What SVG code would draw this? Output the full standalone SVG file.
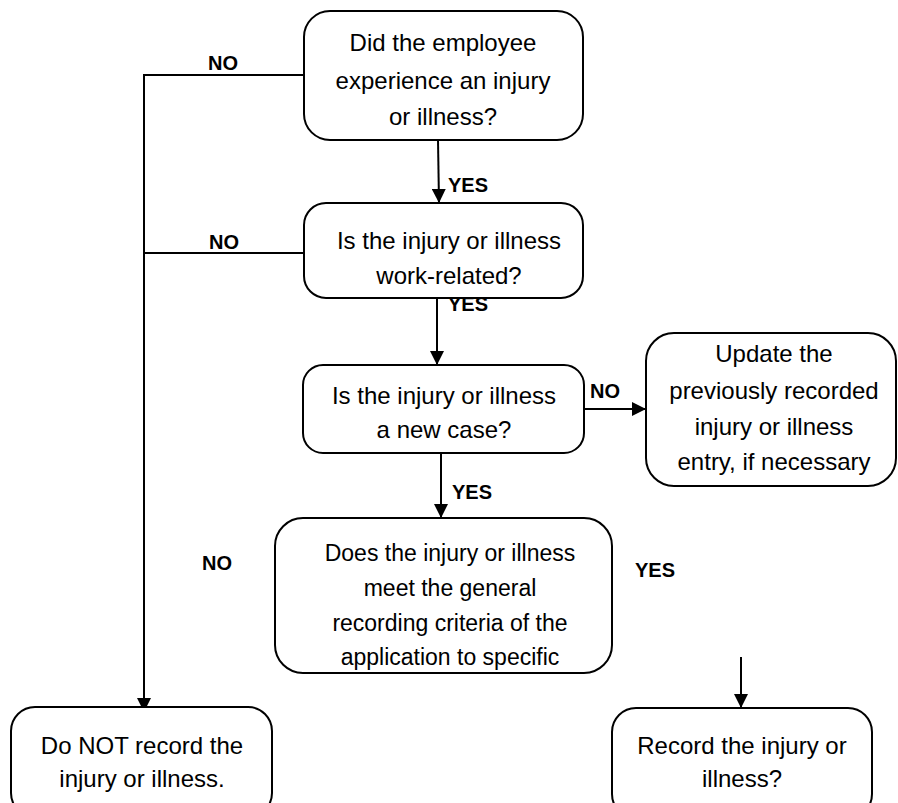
<svg xmlns="http://www.w3.org/2000/svg" width="898" height="803" viewBox="0 0 898 803">
<defs>
<marker id="ah" markerUnits="userSpaceOnUse" markerWidth="14" markerHeight="14" viewBox="0 0 14 14" refX="14" refY="7" orient="auto">
<path d="M0,0 L14,7 L0,14 Z" fill="#000"/>
</marker>
<style>
.box{fill:#fff;stroke:#000;stroke-width:2}
.t{font-family:"Liberation Sans",Arial,sans-serif;font-size:24px;fill:#000;text-anchor:middle}
.s{font-size:23px}
.lb{font-family:"Liberation Sans",Arial,sans-serif;font-size:20px;font-weight:bold;fill:#000}
.c{stroke:#000;stroke-width:2;fill:none}
</style>
</defs>
<rect width="898" height="803" fill="#fff"/>
<g id="connectors">
<path class="c" d="M304,75 H144 V712" marker-end="url(#ah)"/>
<path class="c" d="M304,253 H144"/>
<path class="c" d="M438,140 L439,203" marker-end="url(#ah)"/>
<path class="c" d="M437,298 V365" marker-end="url(#ah)"/>
<path class="c" d="M584,409 H646" marker-end="url(#ah)"/>
<path class="c" d="M441,453 V518" marker-end="url(#ah)"/>
<path class="c" d="M741,657 V708" marker-end="url(#ah)"/>
<text class="lb" x="223" y="70" text-anchor="middle">NO</text>
<text class="lb" x="224" y="249" text-anchor="middle">NO</text>
<text class="lb" x="448" y="192">YES</text>
<text class="lb" x="448" y="311">YES</text>
<text class="lb" x="590" y="398">NO</text>
<text class="lb" x="452" y="499">YES</text>
<text class="lb" x="217" y="570" text-anchor="middle">NO</text>
<text class="lb" x="655" y="577" text-anchor="middle">YES</text>
</g>
<g id="n1">
<rect class="box" x="304" y="11" width="279" height="129" rx="26"/>
<text class="t" x="443" y="51">Did the employee</text>
<text class="t" x="443" y="89">experience an injury</text>
<text class="t" x="443" y="125">or illness?</text>
</g>
<g id="n2">
<rect class="box" x="304" y="203" width="279" height="95" rx="22"/>
<text class="t" x="449" y="249">Is the injury or illness</text>
<text class="t" x="449" y="284">work-related?</text>
</g>
<g id="n3">
<rect class="box" x="303" y="365" width="281" height="88" rx="20"/>
<text class="t" x="444" y="404">Is the injury or illness</text>
<text class="t" x="444" y="438">a new case?</text>
</g>
<g id="n4">
<rect class="box" x="646" y="333" width="250" height="153" rx="28"/>
<text class="t" x="774" y="362">Update the</text>
<text class="t" x="774" y="399">previously recorded</text>
<text class="t" x="774" y="435">injury or illness</text>
<text class="t" x="774" y="470">entry, if necessary</text>
</g>
<g id="n5">
<rect class="box" x="275" y="518" width="337" height="155" rx="28"/>
<text class="t s" x="450" y="561">Does the injury or illness</text>
<text class="t s" x="450" y="596">meet the general</text>
<text class="t s" x="450" y="631">recording criteria of the</text>
<text class="t s" x="450" y="665">application to specific</text>
</g>
<g id="n6">
<rect class="box" x="612" y="708" width="260" height="110" rx="24"/>
<text class="t" x="742" y="754">Record the injury or</text>
<text class="t" x="742" y="787">illness?</text>
</g>
<g id="n7">
<rect class="box" x="11" y="707" width="261" height="110" rx="24"/>
<text class="t" x="142" y="754">Do NOT record the</text>
<text class="t" x="142" y="787">injury or illness.</text>
</g>
</svg>
